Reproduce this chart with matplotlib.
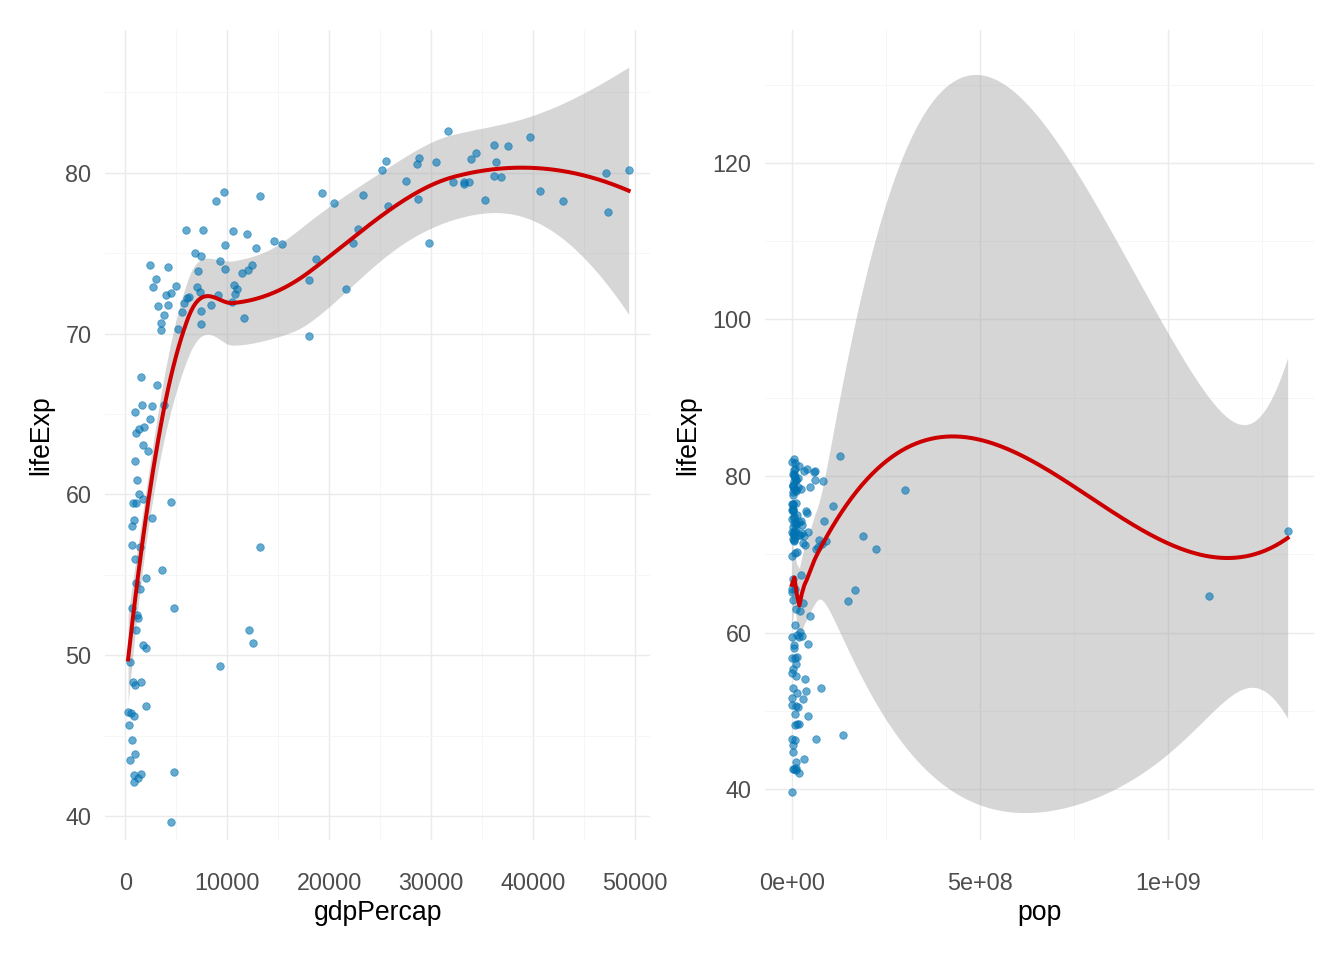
import numpy as np
import matplotlib.pyplot as plt
from matplotlib.ticker import FixedLocator

plt.rcParams['font.family'] = ['Liberation Sans', 'DejaVu Sans']

# gapminder 2007: gdpPercap, lifeExp, pop
gdp = [974.6, 5937, 6223, 4797, 12779, 34435, 36126, 29796, 1391, 33693, 1441, 3822, 7446, 12570,
       9066, 10681, 1217, 430, 1714, 2042, 36319, 706, 1704, 13172, 4959, 7007, 986, 278, 3633,
       9645, 1545, 14619, 8948, 22833, 35278, 2082, 6025, 6873, 5581, 5728, 12154, 641, 691,
       33207, 30470, 13206, 753, 32170, 1328, 27538, 5186, 943, 579, 1202, 3548, 39725, 18009,
       36181, 2452, 3541, 11606, 4471, 40676, 25523, 28570, 7321, 31656, 4519, 1463, 1593, 23348,
       47307, 10461, 1569, 415, 12057, 1045, 759, 12452, 1043, 1803, 10957, 11978, 3096, 9254,
       3820, 824, 944, 4811, 1091, 36798, 25185, 2749, 620, 2014, 49357, 22316, 2606, 9809, 4173,
       7409, 3190, 15390, 20510, 19329, 7670, 10808, 863, 1598, 21655, 1712, 9787, 863, 47143,
       18678, 25768, 926, 9270, 28821, 3970, 2602, 4513, 33860, 37506, 4185, 28718, 1107, 7458,
       883, 18009, 7093, 8458, 1056, 33203, 42952, 10611, 11416, 2442, 3025, 2281, 1271, 470]
life = [43.83, 76.42, 72.30, 42.73, 75.32, 81.24, 79.83, 75.64, 64.06, 79.44, 56.73, 65.55, 74.85,
        50.73, 72.39, 73.0, 52.30, 49.58, 59.72, 50.43, 80.65, 44.74, 50.65, 78.55, 72.96, 72.89,
        65.15, 46.46, 55.32, 78.78, 48.33, 75.75, 78.27, 76.49, 78.33, 54.79, 72.24, 74.99, 71.34,
        71.88, 51.58, 58.04, 52.95, 79.31, 80.66, 56.73, 59.45, 79.41, 60.02, 79.48, 70.26, 56.01,
        46.39, 60.92, 70.20, 82.21, 73.34, 81.76, 64.70, 70.65, 70.96, 59.55, 78.89, 80.75, 80.55,
        72.57, 82.60, 72.54, 54.11, 67.30, 78.62, 77.59, 71.99, 42.59, 45.68, 73.95, 59.44, 48.30,
        74.24, 54.47, 64.16, 72.80, 76.20, 66.80, 74.54, 71.16, 42.08, 62.07, 52.91, 63.79, 79.76,
        80.20, 72.90, 56.87, 46.86, 80.20, 75.64, 65.48, 75.54, 71.75, 71.42, 71.69, 75.56, 78.10,
        78.75, 76.44, 72.48, 46.24, 65.53, 72.78, 63.06, 74.00, 42.57, 79.97, 74.66, 77.93, 48.16,
        49.34, 80.94, 72.40, 58.56, 39.61, 80.88, 81.70, 74.14, 78.40, 52.52, 70.62, 58.42, 69.82,
        73.92, 71.78, 51.54, 79.43, 78.24, 76.38, 73.75, 74.25, 73.42, 62.70, 42.38, 43.49]
pop_m = [31.9, 3.6, 33.3, 12.4, 40.3, 20.4, 8.2, 0.7, 150.4, 10.4, 8.1, 9.1, 4.6, 1.6, 190.0, 7.3,
         14.3, 8.4, 14.1, 17.7, 33.4, 4.4, 10.2, 16.3, 1318.7, 44.2, 0.7, 64.6, 3.8, 4.1, 18.0, 4.5,
         11.4, 10.2, 5.5, 0.5, 9.3, 13.8, 80.3, 6.9, 0.55, 4.9, 76.5, 5.2, 61.1, 1.45, 1.7, 82.4,
         22.9, 10.7, 12.6, 9.9, 1.5, 8.5, 7.5, 6.98, 9.96, 0.3, 1110.4, 223.5, 69.5, 27.5, 4.1, 6.4,
         58.1, 2.8, 127.5, 6.05, 35.6, 23.3, 49.0, 2.5, 3.9, 2.0, 3.2, 6.0, 19.2, 13.3, 24.8, 12.0,
         3.3, 1.25, 108.7, 2.9, 0.68, 33.8, 20.0, 47.8, 2.05, 28.9, 16.6, 4.1, 5.7, 12.9, 135.0, 4.6,
         3.2, 169.3, 3.2, 6.7, 28.7, 91.1, 38.5, 10.6, 3.9, 0.8, 22.3, 8.9, 0.2, 27.6, 12.3, 10.2,
         6.1, 4.55, 5.4, 2.0, 9.1, 44.0, 40.4, 20.4, 42.3, 1.1, 9.0, 7.55, 19.3, 23.2, 38.1, 65.1,
         5.7, 1.06, 10.3, 71.2, 29.2, 60.8, 301.1, 3.45, 26.1, 85.3, 4.0, 22.2, 11.7, 12.3]

gdp = np.array(gdp, float)
life = np.array(life, float)
pop = np.array(pop_m, float) * 1e6


def loess(x, y, grid, span=0.75):
    # loess with kd-tree vertices and cubic Hermite interpolation, like R's default
    n = len(x)
    q = int(np.floor(n * span))
    fc = int(np.floor(n * span * 0.2))

    def local(x0):
        d = np.abs(x - x0)
        h = np.sort(d)[q - 1]
        w = np.clip(1 - (d / h) ** 3, 0, None) ** 3
        X = np.column_stack([np.ones(n), x - x0, (x - x0) ** 2])
        XtW = X.T * w
        B = np.linalg.solve(XtW @ X, XtW)
        return B[0], B[1]

    lo_b, hi_b = x.min(), x.max()
    m = 0.005 * (hi_b - lo_b)
    verts = {lo_b - m, hi_b + m}

    def split(pts):
        if len(pts) <= fc:
            return
        s = np.sort(pts)
        k = len(s) // 2
        v = (s[k - 1] + s[k]) / 2 if len(s) % 2 == 0 else s[k]
        if v <= s[0] or v >= s[-1]:
            return
        verts.add(v)
        split(s[s <= v])
        split(s[s > v])

    split(x)
    vx = np.array(sorted(verts))
    V = [local(v) for v in vx]
    V0 = np.array([a for a, b in V])
    V1 = np.array([b for a, b in V])

    def rows(pts):
        L = np.zeros((len(pts), n))
        for k, p in enumerate(pts):
            i = min(max(np.searchsorted(vx, p) - 1, 0), len(vx) - 2)
            h = vx[i + 1] - vx[i]
            t = (p - vx[i]) / h
            h00 = 2 * t**3 - 3 * t**2 + 1
            h10 = t**3 - 2 * t**2 + t
            h01 = -2 * t**3 + 3 * t**2
            h11 = t**3 - t**2
            L[k] = h00 * V0[i] + h10 * h * V1[i] + h01 * V0[i + 1] + h11 * h * V1[i + 1]
        return L

    Ld = rows(x)
    res = y - Ld @ y
    M = np.eye(n) - Ld
    MM = M.T @ M
    d1 = np.trace(MM)
    d2 = np.trace(MM @ MM)
    sigma = np.sqrt(np.sum(res ** 2) / d1)
    df = d1 ** 2 / d2
    t = 1.96 + 2.4 / df
    Lg = rows(grid)
    fit = Lg @ y
    se = sigma * np.sqrt(np.sum(Lg ** 2, axis=1))
    return fit, fit - t * se, fit + t * se


fig = plt.figure(figsize=(14, 10), dpi=96)
ax1 = fig.add_axes([0.078, 0.125, 0.406, 0.844])
ax2 = fig.add_axes([0.569, 0.125, 0.409, 0.844])


def panel(ax, x, y, xlim, ylim, xt, xtl, xminor, yt, yminor, xlabel):
    grid = np.linspace(x.min(), x.max(), 200)
    fit, lo, hi = loess(x, y, grid)
    ax.fill_between(grid, lo, hi, color='#999999', alpha=0.4, lw=0, zorder=2)
    ax.scatter(x, y, s=32, color='#0072B2', alpha=0.6, edgecolor='#0072B2', lw=0.6, zorder=3)
    ax.plot(grid, fit, color='#CC0000', lw=3, zorder=4)
    ax.set_xlim(*xlim)
    ax.set_ylim(*ylim)
    ax.set_xticks(xt)
    ax.set_xticklabels(xtl)
    ax.set_yticks(yt)
    ax.xaxis.set_minor_locator(FixedLocator(xminor))
    ax.yaxis.set_minor_locator(FixedLocator(yminor))
    ax.grid(True, which='major', color='#EBEBEB', lw=1.1, zorder=0)
    ax.grid(True, which='minor', color='#F4F4F4', lw=0.6, zorder=0)
    ax.set_axisbelow(True)
    for s in ax.spines.values():
        s.set_visible(False)
    ax.tick_params(which='both', length=0, labelsize=17.5, labelcolor='#4D4D4D')
    ax.tick_params(axis='x', pad=24)
    ax.tick_params(axis='y', pad=10)
    ax.set_xlabel(xlabel, fontsize=20, labelpad=4)
    ax.set_ylabel('lifeExp', fontsize=20, labelpad=8)


panel(ax1, gdp, life, (-2000, 51500), (38.5, 88.9),
      [0, 10000, 20000, 30000, 40000, 50000], ['0', '10000', '20000', '30000', '40000', '50000'],
      [5000, 15000, 25000, 35000, 45000], [40, 50, 60, 70, 80], [45, 55, 65, 75, 85], 'gdpPercap')
panel(ax2, pop, life, (-0.72e8, 1.39e9), (33.5, 137),
      [0, 5e8, 1e9], ['0e+00', '5e+08', '1e+09'],
      [2.5e8, 7.5e8, 1.25e9], [40, 60, 80, 100, 120], [50, 70, 90, 110, 130], 'pop')

fig.savefig('out.png', dpi=96, facecolor='white')
